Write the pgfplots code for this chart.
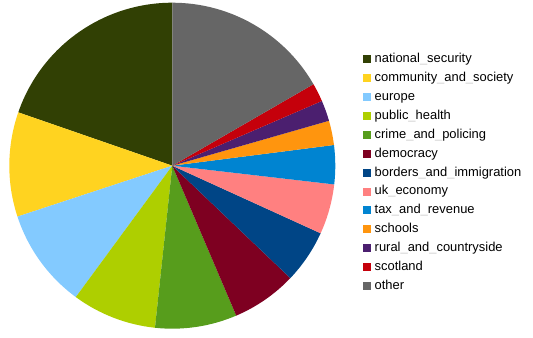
\documentclass[border=0pt]{standalone}
\usepackage{fontspec}
\setmainfont{Liberation Sans}
\usepackage{pgfplots}
\pgfplotsset{compat=1.18}

\definecolor{cnat}{HTML}{314004}
\definecolor{ccom}{HTML}{FFD320}
\definecolor{ceur}{HTML}{83CAFF}
\definecolor{cpub}{HTML}{AECF00}
\definecolor{ccri}{HTML}{579D1C}
\definecolor{cdem}{HTML}{7E0021}
\definecolor{cbor}{HTML}{004586}
\definecolor{cuke}{HTML}{FF8080}
\definecolor{ctax}{HTML}{0084D1}
\definecolor{csch}{HTML}{FF950E}
\definecolor{crur}{HTML}{4B1F6F}
\definecolor{csco}{HTML}{C5000B}
\definecolor{coth}{HTML}{666666}

\newcommand{\us}{{\color{black!20}\_}}
\newcommand{\R}{122.25pt}

\begin{document}
\begin{tikzpicture}
\begin{axis}[
  x=\R, y=\R,
  xmin=-1.0571, xmax=2.2129, ymin=-1.0571, ymax=1.0166,
  hide axis, clip=false,
  data cs=polar,
  legend cell align=left,
  legend image code/.code={\fill[#1] (0pt,-3pt) rectangle (6pt,3pt);},
  legend style={draw=none, fill=none, inner sep=0pt,
    at={(0.6800,0.843)}, anchor=north west,
    font=\fontsize{9.7}{11}\selectfont,
    nodes={inner sep=0pt, text height=7.2pt, text depth=2pt},
    row sep=4.95pt,
    /tikz/every odd column/.append style={column sep=3pt}},
]
% slices: start angle, arc to end angle, counter-clockwise from the top
\addplot[fill=cnat, draw=none] coordinates {(0,0) (90,1)} arc[start angle=90, end angle=160.9, radius=\R] -- cycle;
\addlegendentry{national\us security}
\addplot[fill=ccom, draw=none] coordinates {(0,0) (160.9,1)} arc[start angle=160.9, end angle=198.2, radius=\R] -- cycle;
\addlegendentry{community\us and\us society}
\addplot[fill=ceur, draw=none] coordinates {(0,0) (198.2,1)} arc[start angle=198.2, end angle=233.7, radius=\R] -- cycle;
\addlegendentry{europe}
\addplot[fill=cpub, draw=none] coordinates {(0,0) (233.7,1)} arc[start angle=233.7, end angle=263.9, radius=\R] -- cycle;
\addlegendentry{public\us health}
\addplot[fill=ccri, draw=none] coordinates {(0,0) (263.9,1)} arc[start angle=263.9, end angle=293.1, radius=\R] -- cycle;
\addlegendentry{crime\us and\us policing}
\addplot[fill=cdem, draw=none] coordinates {(0,0) (293.1,1)} arc[start angle=293.1, end angle=316.4, radius=\R] -- cycle;
\addlegendentry{democracy}
\addplot[fill=cbor, draw=none] coordinates {(0,0) (316.4,1)} arc[start angle=316.4, end angle=335.5, radius=\R] -- cycle;
\addlegendentry{borders\us and\us immigration}
\addplot[fill=cuke, draw=none] coordinates {(0,0) (335.5,1)} arc[start angle=335.5, end angle=353.4, radius=\R] -- cycle;
\addlegendentry{uk\us economy}
\addplot[fill=ctax, draw=none] coordinates {(0,0) (353.4,1)} arc[start angle=353.4, end angle=367.3, radius=\R] -- cycle;
\addlegendentry{tax\us and\us revenue}
\addplot[fill=csch, draw=none] coordinates {(0,0) (7.3,1)} arc[start angle=7.3, end angle=16.0, radius=\R] -- cycle;
\addlegendentry{schools}
\addplot[fill=crur, draw=none] coordinates {(0,0) (16.0,1)} arc[start angle=16.0, end angle=23.4, radius=\R] -- cycle;
\addlegendentry{rural\us and\us countryside}
\addplot[fill=csco, draw=none] coordinates {(0,0) (23.4,1)} arc[start angle=23.4, end angle=30.0, radius=\R] -- cycle;
\addlegendentry{scotland}
\addplot[fill=coth, draw=none] coordinates {(0,0) (30.0,1)} arc[start angle=30.0, end angle=90, radius=\R] -- cycle;
\addlegendentry{other}
\path (rel axis cs:0,0) rectangle (rel axis cs:1,1);
\end{axis}
\end{tikzpicture}
\end{document}
